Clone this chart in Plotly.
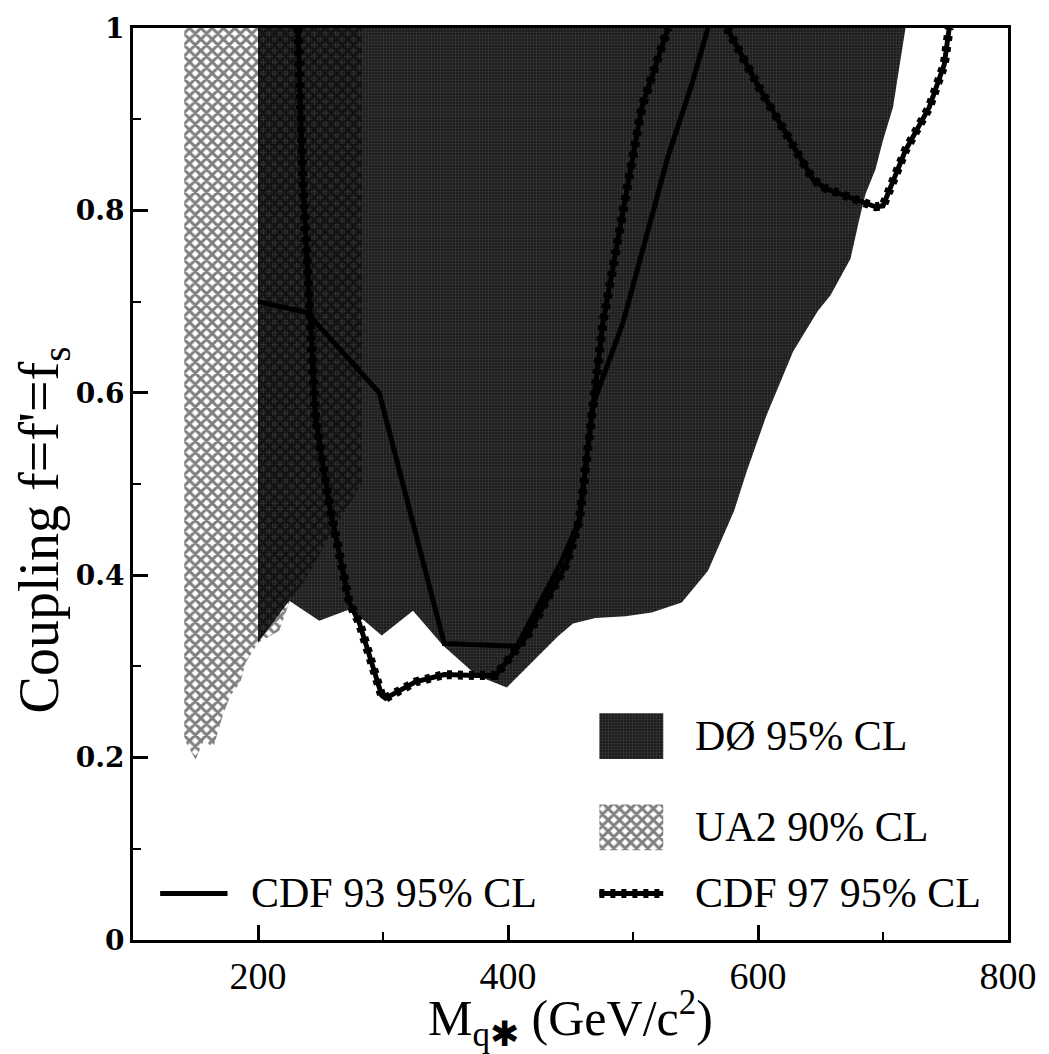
import plotly.graph_objects as go

# ---- exclusion contours: mass (GeV/c^2) vs coupling f = f' = f_s ----
d0_mass = [200, 718, 708, 700, 694, 686, 681, 674, 658, 648, 636, 628, 607, 591,
           581, 560, 539, 515, 494, 470, 452, 440, 399, 375, 348, 324, 299, 274,
           249, 225, 200]
d0_coupling = [1.0, 1.0, 0.913, 0.877, 0.845, 0.818, 0.79, 0.747, 0.707, 0.69,
               0.663, 0.645, 0.576, 0.514, 0.471, 0.405, 0.37, 0.359, 0.355,
               0.353, 0.347, 0.333, 0.277, 0.29, 0.323, 0.361, 0.334, 0.363,
               0.35, 0.372, 0.326]

ua2_mass = [141, 283, 283, 260, 240, 225, 217, 200, 190, 186, 178, 172, 164,
            157, 150, 141]
ua2_coupling = [1.0, 1.0, 0.50, 0.45, 0.40, 0.37, 0.339, 0.326, 0.304, 0.283,
                0.268, 0.247, 0.21, 0.22, 0.198, 0.22]

cdf93_mass = [200, 239, 297, 349, 407, 442, 457, 468, 492, 528, 547, 560]
cdf93_coupling = [0.70, 0.688, 0.60, 0.325, 0.322, 0.413, 0.46, 0.587, 0.677,
                  0.859, 0.938, 1.0]

# CDF 97 has two excluded windows; None splits the contour
cdf97_mass = [232, 236, 246, 257, 273, 281, 299, 302, 326, 349, 375, 390, 416,
              447, 457, 468, 476, 507, 528, None,
              575, 602, 644, 654, 694, 700, 718, 737, 749, 753]
cdf97_coupling = [1.0, 0.83, 0.573, 0.478, 0.37, 0.348, 0.268, 0.265, 0.283,
                  0.291, 0.29, 0.29, 0.335, 0.413, 0.46, 0.587, 0.677, 0.913,
                  1.0, None,
                  1.0, 0.932, 0.834, 0.824, 0.804, 0.805, 0.866, 0.913, 0.96,
                  1.0]

x_ticks = [200, 400, 600, 800]
y_ticks = [0, 0.2, 0.4, 0.6, 0.8, 1]
y_tick_text = ["0", "0.2", "0.4", "0.6", "0.8", "1"]

legend_labels = ["DØ 95% CL", "UA2 90% CL", "CDF 93 95% CL", "CDF 97 95% CL"]

SERIF = "Liberation Serif"

d0_pattern = dict(shape=".", fgcolor="#575757", bgcolor="#1d1d1d",
                  size=3, solidity=0.3)
ua2_pattern = dict(shape="x", fgcolor="black", bgcolor="rgba(0,0,0,0)",
                   size=8, solidity=0.6)

LINE_W = 5
BEAD = dict(color="black", width=9, dash="5px,6px")

fig = go.Figure()

fig.add_trace(go.Scatter(
    x=d0_mass, y=d0_coupling, mode="lines", fill="toself",
    fillcolor="#1d1d1d", fillpattern=d0_pattern,
    line=dict(width=0, color="#1d1d1d"), hoverinfo="skip", showlegend=False))

fig.add_trace(go.Scatter(
    x=ua2_mass, y=ua2_coupling, mode="lines", fill="toself",
    fillcolor="rgba(0,0,0,0)", fillpattern=ua2_pattern,
    line=dict(width=0, color="black"), hoverinfo="skip", showlegend=False))

fig.add_trace(go.Scatter(
    x=cdf93_mass, y=cdf93_coupling, mode="lines",
    line=dict(color="black", width=LINE_W), showlegend=False))

# CDF 97: thick line with bead-like dashes laid over it
fig.add_trace(go.Scatter(
    x=cdf97_mass, y=cdf97_coupling, mode="lines",
    line=dict(color="black", width=LINE_W), showlegend=False))
fig.add_trace(go.Scatter(
    x=cdf97_mass, y=cdf97_coupling, mode="lines",
    line=BEAD, showlegend=False))

# ---- legend keys, drawn on a unit overlay axis spanning the plot area ----
key_x0, key_x1 = 0.533, 0.606
key_left_x0, key_left_x1 = 0.031, 0.108
key_rows = [0.2235, 0.1235, 0.051]
box_half = 0.025

for row, pattern in zip(key_rows[:2], [d0_pattern, ua2_pattern]):
    fig.add_trace(go.Scatter(
        x=[key_x0, key_x1, key_x1, key_x0, key_x0],
        y=[row - box_half, row - box_half, row + box_half, row + box_half,
           row - box_half],
        xaxis="x2", yaxis="y2", mode="lines", fill="toself",
        fillcolor=pattern["bgcolor"], fillpattern=pattern,
        line=dict(width=0, color="black"), hoverinfo="skip",
        showlegend=False))

fig.add_trace(go.Scatter(
    x=[key_left_x0, key_left_x1], y=[key_rows[2]] * 2, xaxis="x2", yaxis="y2",
    mode="lines", line=dict(color="black", width=LINE_W), showlegend=False))
fig.add_trace(go.Scatter(
    x=[key_x0, key_x1], y=[key_rows[2]] * 2, xaxis="x2", yaxis="y2",
    mode="lines", line=dict(color="black", width=LINE_W), showlegend=False))
fig.add_trace(go.Scatter(
    x=[key_x0, key_x1], y=[key_rows[2]] * 2, xaxis="x2", yaxis="y2",
    mode="lines", line=BEAD, showlegend=False))

label_pos = [(0.640, key_rows[0]), (0.640, key_rows[1]),
             (0.133, key_rows[2]), (0.640, key_rows[2])]
for text, (lx, ly) in zip(legend_labels, label_pos):
    fig.add_annotation(x=lx, y=ly, xref="paper", yref="paper", text=text,
                       showarrow=False, xanchor="left", yanchor="middle",
                       font=dict(family=SERIF, size=42, color="black"))

# vertical axis title, set slightly below the axis centre
fig.add_annotation(x=-0.103, y=0.45, xref="paper", yref="paper",
                   text="Coupling f=f'=f<sub>s</sub>", textangle=-90,
                   showarrow=False, xanchor="center", yanchor="middle",
                   font=dict(family=SERIF, size=56, color="black"))

axis_common = dict(showgrid=False, zeroline=False, showline=True,
                   linecolor="black", linewidth=3, mirror=True,
                   ticks="inside", ticklen=15, tickwidth=2.5,
                   tickcolor="black")

fig.update_layout(
    width=1049, height=1054,
    margin=dict(l=133, r=35, t=20, b=114),
    paper_bgcolor="white", plot_bgcolor="white",
    showlegend=False,
    xaxis=dict(range=[100, 800], tickvals=x_ticks,
               ticktext=[str(v) for v in x_ticks],
               minor=dict(dtick=100, tick0=0, ticks="inside", ticklen=8,
                          tickwidth=2, tickcolor="black"),
               tickfont=dict(family=SERIF, size=38, color="black"),
               title=dict(text="M<sub>q✱</sub> (GeV/c<sup>2</sup>)",
                          font=dict(family=SERIF, size=50, color="black"),
                          standoff=0),
               **axis_common),
    yaxis=dict(range=[0, 1], tickvals=y_ticks, ticktext=y_tick_text,
               minor=dict(dtick=0.1, tick0=0, ticks="inside", ticklen=8,
                          tickwidth=2, tickcolor="black"),
               tickfont=dict(family="DejaVu Serif", size=28,
                             color="black", weight="bold"),
               **axis_common),
    xaxis2=dict(overlaying="x", range=[0, 1], visible=False),
    yaxis2=dict(overlaying="y", range=[0, 1], visible=False),
)

fig.write_html("out.html")
